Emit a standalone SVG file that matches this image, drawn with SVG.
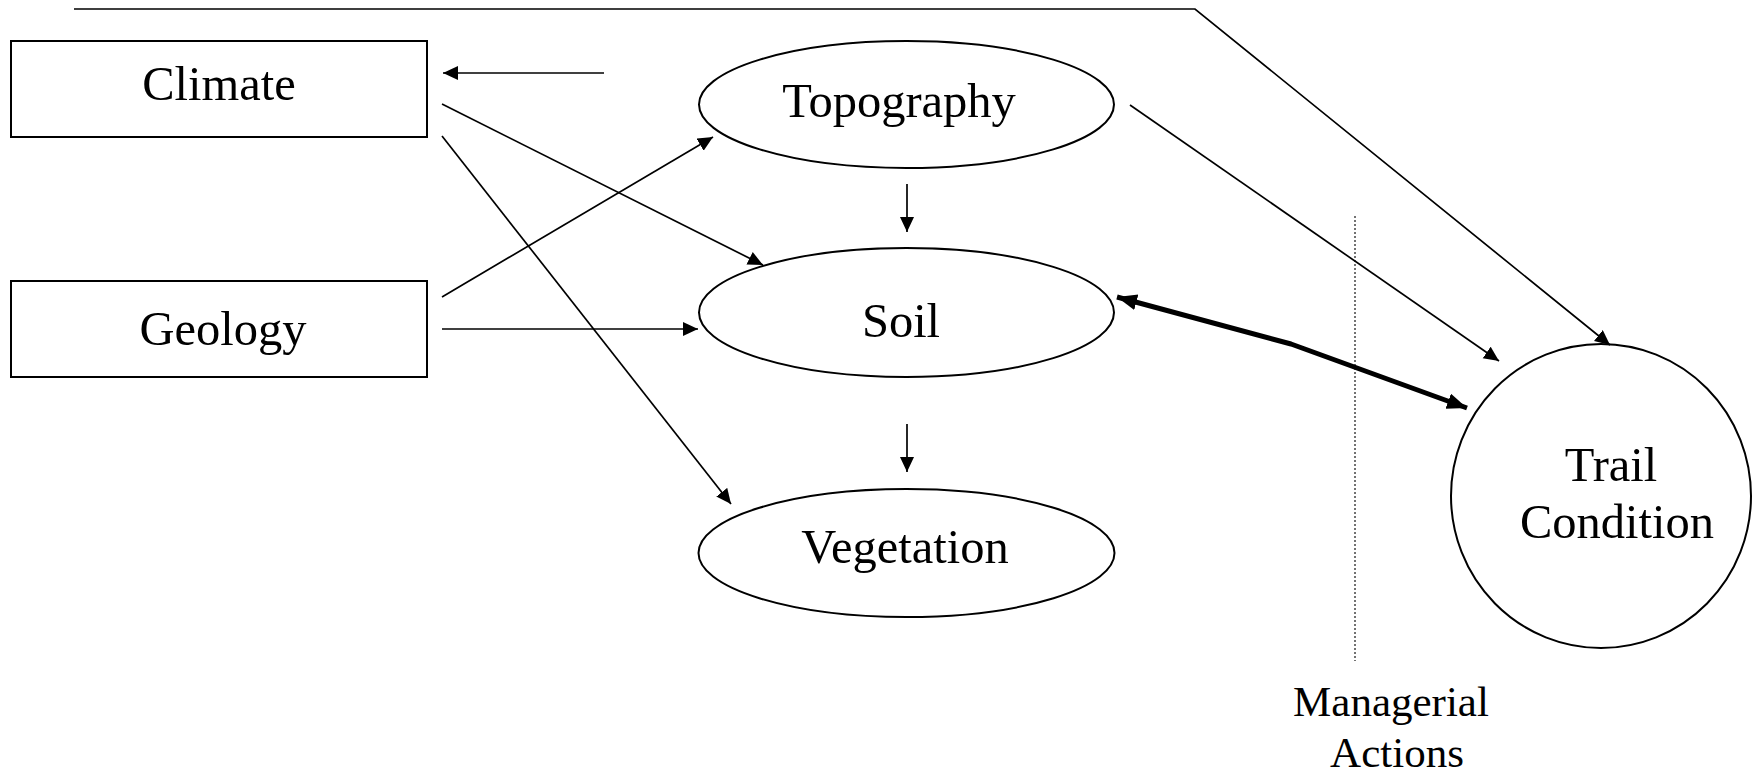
<svg xmlns="http://www.w3.org/2000/svg" width="1752" height="775" viewBox="0 0 1752 775">
<style>
  .node { fill: #fff; stroke: #000; stroke-width: 2; }
  .lbl { font-family: "Liberation Serif", "Times New Roman", serif; font-size: 48.5px; fill: #000; text-anchor: middle; }
  .small { font-size: 43px; }
  .edge { fill: none; stroke: #000; stroke-width: 1.7; }
  .thick { fill: none; stroke: #000; stroke-width: 5; stroke-linejoin: round; }
  .dots { fill: none; stroke: #444; stroke-width: 1.5; stroke-dasharray: 2 2; }
</style>
<defs>
  <marker id="arr" markerUnits="userSpaceOnUse" markerWidth="16" markerHeight="15" refX="15" refY="7" orient="auto">
    <path d="M0,0 L15,7 L0,14 z" fill="#000"/>
  </marker>
  <marker id="arrT" markerUnits="userSpaceOnUse" markerWidth="21" markerHeight="17" refX="20" refY="8" orient="auto-start-reverse">
    <path d="M0,0 L20,8 L0,16 z" fill="#000"/>
  </marker>
</defs>
<rect width="1752" height="775" fill="#fff"/>
<g id="climate">
  <rect class="node" x="11" y="41" width="416" height="96"/>
  <text class="lbl" x="219" y="100">Climate</text>
</g>
<g id="geology">
  <rect class="node" x="11" y="281" width="416" height="96"/>
  <text class="lbl" x="223" y="345">Geology</text>
</g>
<g id="topography">
  <ellipse class="node" cx="906.5" cy="104.5" rx="207.5" ry="63.5"/>
  <text class="lbl" x="899" y="117">Topography</text>
</g>
<g id="soil">
  <ellipse class="node" cx="906.5" cy="312.5" rx="207.5" ry="64.5"/>
  <text class="lbl" x="901" y="337">Soil</text>
</g>
<g id="vegetation">
  <ellipse class="node" cx="906.5" cy="553" rx="208" ry="64"/>
  <text class="lbl" x="905" y="563">Vegetation</text>
</g>
<g id="trail-condition">
  <ellipse class="node" cx="1601" cy="496" rx="150" ry="152"/>
  <text class="lbl" x="1611" y="481">Trail</text>
  <text class="lbl" x="1617" y="538">Condition</text>
</g>
<g id="managerial-actions">
  <line class="dots" x1="1355" y1="216" x2="1355" y2="661"/>
  <text class="lbl small" x="1391" y="716">Managerial</text>
  <text class="lbl small" x="1397" y="767">Actions</text>
</g>
<g id="connectors">
  <line class="edge" x1="604" y1="73" x2="443" y2="73" marker-end="url(#arr)"/>
  <line class="edge" x1="442" y1="104" x2="763" y2="265" marker-end="url(#arr)"/>
  <line class="edge" x1="442" y1="136" x2="731" y2="504" marker-end="url(#arr)"/>
  <line class="edge" x1="442" y1="297" x2="713" y2="137" marker-end="url(#arr)"/>
  <line class="edge" x1="442" y1="329" x2="698" y2="329" marker-end="url(#arr)"/>
  <line class="edge" x1="907" y1="184" x2="907" y2="232" marker-end="url(#arr)"/>
  <line class="edge" x1="907" y1="424" x2="907" y2="472" marker-end="url(#arr)"/>
  <line class="edge" x1="1130" y1="105" x2="1499" y2="361" marker-end="url(#arr)"/>
  <polyline class="edge" points="74,9 1195,9 1610,345" marker-end="url(#arr)"/>
  <polyline class="thick" points="1117,297 1291,344 1467,408" marker-start="url(#arrT)" marker-end="url(#arrT)"/>
</g>
</svg>
